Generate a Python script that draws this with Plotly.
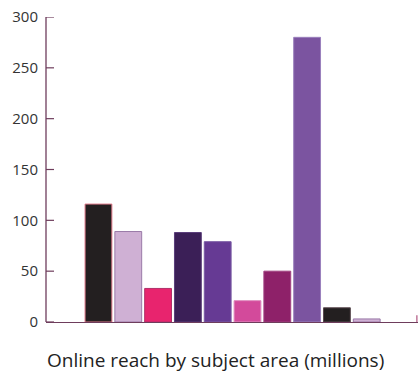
import plotly.graph_objects as go

categories = ["A", "B", "C", "D", "E", "F", "G", "H", "I", "J"]
values = [116, 89, 33, 88, 79, 21, 50, 280, 14, 3]
colors = ["#231f20", "#cfb0d4", "#e8246e", "#3b1f57", "#663a94",
          "#d34a9b", "#8e2169", "#7b54a0", "#231f20", "#cfb0d4"]
outline = ["#e07a8a", "#9a7aa8", "#b0306a", "#5a3d7a", "#7a5aa4",
           "#e090c0", "#a04080", "#9a80bc", "#5a4a50", "#9a7aa8"]
yticks = [0, 50, 100, 150, 200, 250, 300]
title = "Online reach by subject area (millions)"

axis_color = "#6e3d5c"
font = "Open Sans, Lato, sans-serif"

fig = go.Figure(go.Bar(
    x=list(range(len(categories))),
    y=values,
    marker=dict(color=colors, line=dict(color=outline, width=1)),
    width=0.9,
    hoverinfo="skip",
))

tick_len = 8 / 372  # in paper units of the plot width
shapes = [dict(type="line", xref="paper", yref="paper", x0=0.997, x1=0.997,
               y0=0, y1=0.022, line=dict(color="#b05580", width=1.2)),
          dict(type="line", xref="paper", yref="paper", x0=0, x1=0,
               y0=0, y1=1, line=dict(color=axis_color, width=1.3))]
for v in yticks:
    shapes.append(dict(type="line", xref="paper", yref="y", x0=0, x1=tick_len,
                       y0=v, y1=v, line=dict(color=axis_color, width=1.2)))

fig.update_layout(
    width=418, height=372,
    margin=dict(l=46, r=0, t=17, b=50),
    plot_bgcolor="white", paper_bgcolor="white",
    showlegend=False,
    font=dict(family=font, color="#333333", size=15),
    xaxis=dict(range=[-1.76, 10.72], showticklabels=False, ticks="",
               showgrid=False, zeroline=False, showline=True,
               linecolor=axis_color, linewidth=1.2),
    yaxis=dict(range=[0, 300], tickvals=yticks, ticks="", showgrid=False,
               zeroline=False, showline=False, ticklabelstandoff=7,
               tickfont=dict(size=15, color="#333333")),
    annotations=[dict(text=title, xref="paper", yref="paper", x=-0.003, y=-0.125,
                      xanchor="left", yanchor="middle", showarrow=False,
                      font=dict(size=19, color="#222222", family=font))],
    shapes=shapes,
)

fig.write_html("out.html")
